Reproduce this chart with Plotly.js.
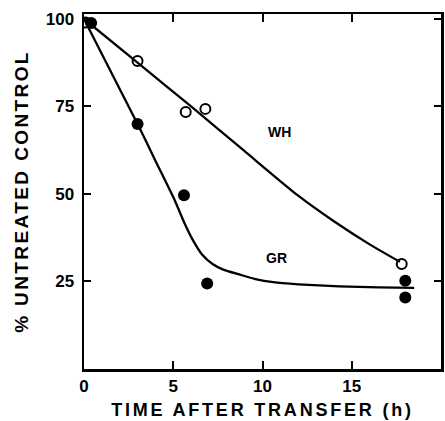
<!DOCTYPE html>
<html><head><meta charset="utf-8">
<script src="https://cdn.plot.ly/plotly-3.0.1.min.js"></script>
<style>body{margin:0;background:#fff}#c{width:445px;height:421px}
text.xtitle{letter-spacing:2.8px}
text.ytitle{letter-spacing:2.4px}
</style>
</head><body><div id="c"></div>
<script>
// WH (open circles) data
var whX = [0.1, 3.0, 5.7, 6.8, 17.8];
var whY = [99.0, 88.0, 73.4, 74.3, 30.0];
// GR (filled circles) data
var grX = [0.4, 3.0, 5.6, 6.9, 18.0, 18.0];
var grY = [98.8, 70.0, 49.6, 24.4, 25.2, 20.4];
// fitted curves (hand-drawn in original)
var whFitX = [0, 3, 6, 9, 12, 14, 16, 17.7];
var whFitY = [100, 87.5, 75, 62.2, 49.5, 42.2, 35.6, 30.6];
var grFitX = [0, 3, 4, 5.1, 5.6, 6.1, 6.6, 7.2, 7.8, 8.7, 9.6, 10.6, 12, 14.3, 16.5, 18.5];
var grFitY = [100, 70, 59.5, 48, 42, 36.8, 32.8, 30.0, 28.4, 27.0, 25.7, 24.8, 24.2, 23.6, 23.3, 23.2];
var xTicks = [0, 5, 10, 15];
var yTicks = [25, 50, 75, 100];
var labels = [{t: 'WH', x: 10.95, y: 67.7}, {t: 'GR', x: 10.8, y: 31.7}];

var traces = [
  {x: whFitX, y: whFitY, mode: 'lines', line: {color: '#000', width: 2.3, shape: 'spline', smoothing: 0.6}, hoverinfo: 'skip'},
  {x: grFitX, y: grFitY, mode: 'lines', line: {color: '#000', width: 2.3, shape: 'spline', smoothing: 0.6}, hoverinfo: 'skip'},
  {x: whX, y: whY, mode: 'markers', marker: {symbol: 'circle-open', size: 10, color: '#000', line: {width: 2, color: '#000'}}},
  {x: grX, y: grY, mode: 'markers', marker: {symbol: 'circle', size: 12, color: '#000'}}
];
var layout = {
  width: 445, height: 421, showlegend: false,
  margin: {l: 84, r: 4, t: 14, b: 52},
  paper_bgcolor: '#fff', plot_bgcolor: '#fff',
  font: {family: 'Liberation Sans, Arial, sans-serif', color: '#000'},
  xaxis: {range: [0, 20], tickvals: xTicks, ticktext: xTicks.map(String), ticks: 'inside', ticklen: 8, tickwidth: 2,
    tickcolor: '#000', showline: true, linewidth: 2.5, linecolor: '#000', mirror: 'ticks', showgrid: false, zeroline: false,
    tickfont: {size: 17, family: 'Liberation Sans, Arial, sans-serif', weight: 'bold'},
    title: {text: '<b>TIME AFTER TRANSFER (h)</b>', font: {size: 18}, standoff: 9}},
  yaxis: {range: [0, 101.4], tickvals: yTicks, ticktext: yTicks.map(String), ticks: 'inside', ticklen: 7, tickwidth: 2,
    tickcolor: '#000', showline: true, linewidth: 2.5, linecolor: '#000', mirror: 'ticks', showgrid: false, zeroline: false,
    ticklabelstandoff: 4,
    tickfont: {size: 17, family: 'Liberation Sans, Arial, sans-serif', weight: 'bold'},
    title: {text: '<b>% UNTREATED CONTROL</b>', font: {size: 19}, standoff: 12}},
  annotations: labels.map(function (l) {
    return {x: l.x, y: l.y, text: '<b>' + l.t + '</b>', showarrow: false, font: {size: 14, color: '#000'}};
  })
};
Plotly.newPlot('c', traces, layout, {staticPlot: true});
</script></body></html>
